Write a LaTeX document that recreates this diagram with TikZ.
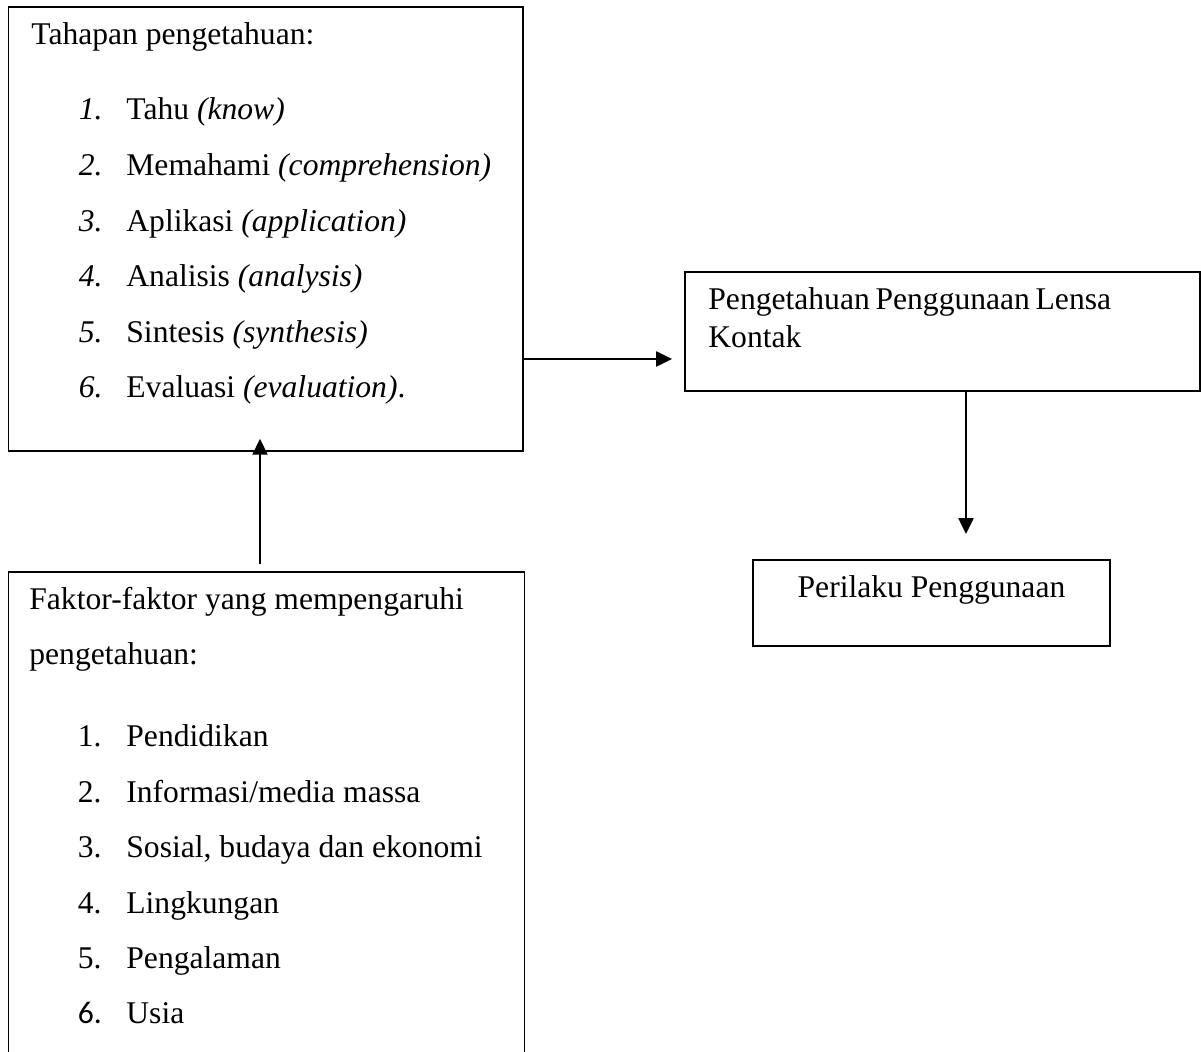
\documentclass[tikz,border=0pt]{standalone}
\usepackage{fontspec}
\setmainfont{Liberation Serif}
\newfontfamily\calfont{Carlito}
\usepackage{tikz}
\usetikzlibrary{positioning, arrows.meta, calc}

\begin{document}
\begin{tikzpicture}[x=0.5pt, y=-0.5pt,
		box/.style={draw, line width=0.9pt, inner sep=0pt},
		txt/.style={anchor=base west, inner sep=0pt, font=\fontsize{15.8}{19}\selectfont},
		arr/.style={-{Triangle[length=8pt, width=7.5pt]}, line width=1.1pt}]
	\useasboundingbox (0,0) rectangle (1201,1052);
	\clip (0,0) rectangle (1201,1052);

	\node[box, minimum width=257.25pt, minimum height=221.85pt] (tahap) at (265.75,229) {};
	\node[box, minimum width=258pt, minimum height=249pt] (faktor) at (266.5,821) {};
	\node[box, minimum width=257.5pt, minimum height=59.5pt] (lensa) at (942.5,331.5) {};
	\node[box, minimum width=178.5pt, minimum height=43pt] (perilaku) at (931.5,603) {};

	\node[txt] (tjudul) at (31,45) {Tahapan pengetahuan:};
	\foreach \i/\teks in {1/{Tahu \textit{(know)}}, 2/{Memahami \textit{(comprehension)}},
			3/{Aplikasi \textit{(application)}}, 4/{Analisis \textit{(analysis)}},
			5/{Sintesis \textit{(synthesis)}}, 6/{Evaluasi \textit{(evaluation)}.}} {
		\node[txt] (tno\i) at (78.5,{120+55.6*(\i-1)}) {\textit{\i.}};
		\node[txt] (tisi\i) at (126,{120+55.6*(\i-1)}) {\teks};
	}

	\node[txt] (fjudul) at (29,610) {Faktor-faktor yang mempengaruhi};
	\node[txt] (fjudulb) at (29,665) {pengetahuan:};
	\foreach \i/\teks in {1/{Pendidikan}, 2/{Informasi/media massa}, 3/{Sosial, budaya dan ekonomi},
			4/{Lingkungan}, 5/{Pengalaman}} {
		\node[txt] (fno\i) at (77.5,{747+55.4*(\i-1)}) {\i.};
		\node[txt] (fisi\i) at (126,{747+55.4*(\i-1)}) {\teks};
	}
	\node[txt] (fno6) at (77.5,1024) {\calfont 6.};
	\node[txt] (fisi6) at (126,1024) {Usia};

	\node[txt] (ljudul) at (708,310) {Pengetahuan\hspace{0.18em}Penggunaan\hspace{0.18em}Lensa};
	\node[txt] (ljudulb) at (708,348) {Kontak};
	\node[txt, anchor=base] (pjudul) at (931.5,598) {Perilaku Penggunaan};

	\draw[arr, shorten >=6pt] ([yshift=-65pt]tahap.east) -- ([yshift=-13.75pt]lensa.west);
	\draw[arr, shorten <=3.5pt, shorten >=-6.5pt] ([xshift=-3.25pt]faktor.north) -- ([xshift=-3.25pt]faktor.north |- tahap.south);
	\draw[arr, shorten >=12.5pt] ([xshift=11.75pt]lensa.south) -- ([xshift=11.75pt]lensa.south |- perilaku.north);
\end{tikzpicture}
\end{document}
